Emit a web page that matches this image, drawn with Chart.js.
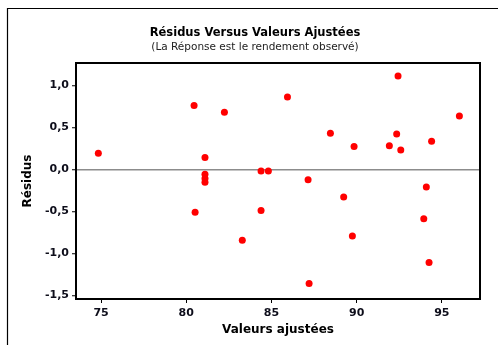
<!DOCTYPE html>
<html>
<head>
<meta charset="utf-8">
<script src="https://cdn.jsdelivr.net/npm/chart.js@4"></script>
<style>
  html, body { margin: 0; padding: 0; background: #fff; }
  #wrap { width: 498px; height: 345px; }
</style>
</head>
<body>
<div id="wrap"><canvas id="residus"></canvas></div>
<script>
const chartTitle = 'Résidus Versus Valeurs Ajustées'
const chartSubtitle = '(La Réponse est le rendement observé)'
const xTitle = 'Valeurs ajustées'
const yTitle = 'Résidus'

// valeurs ajustées (x) et résidus (y)
const fitted = [74.84, 80.46, 82.24, 81.1, 81.1, 81.1, 81.1, 80.52, 83.29, 84.39, 84.82, 84.39,
    92.43, 85.94, 96.03, 88.46, 92.35, 94.4, 89.85, 91.92, 92.59, 87.15, 94.09, 89.24,
    93.94, 89.75, 94.25, 87.21]
const residuals = [0.19, 0.76, 0.68, 0.14, -0.06, -0.11, -0.155, -0.51, -0.845, -0.02, -0.02, -0.49,
    1.11, 0.86, 0.635, 0.43, 0.42, 0.335, 0.27, 0.28, 0.23, -0.125, -0.21, -0.33,
    -0.59, -0.795, -1.11, -1.36]

const xTicks = [75, 80, 85, 90, 95]
const yTicks = [-1.5, -1.0, -0.5, 0.0, 0.5, 1.0]

const tickFont = { family: 'DejaVu Sans', size: 11, weight: 'bold' }
const inkColor = '#0d0d1a'

const framePlugin = {
    id: 'frame',
    beforeDraw(chart) {
        const ctx = chart.ctx
        ctx.save()
        ctx.strokeStyle = '#000'
        ctx.lineWidth = 1.2
        ctx.beginPath()
        ctx.moveTo(7.5, 345)
        ctx.lineTo(7.5, 8.5)
        ctx.lineTo(498, 8.5)
        ctx.stroke()
        ctx.fillStyle = '#000'
        ctx.textAlign = 'center'
        ctx.textBaseline = 'middle'
        ctx.font = 'bold 11.5px "DejaVu Sans"'
        ctx.fillText(chartTitle, 255, 33)
        ctx.fillStyle = '#222'
        ctx.font = '10.5px "DejaVu Sans"'
        ctx.fillText(chartSubtitle, 255, 47)
        ctx.restore()
    },
    afterDraw(chart) {
        const a = chart.chartArea
        const ctx = chart.ctx
        ctx.save()
        ctx.strokeStyle = '#000'
        ctx.lineWidth = 2
        ctx.strokeRect(a.left, a.top, a.right - a.left, a.bottom - a.top)
        ctx.restore()
    }
}

new Chart('residus', {
    type: 'scatter',
    data: {
        datasets: [{
            data: fitted.map((x, i) => ({ x: x, y: residuals[i] })),
            backgroundColor: '#ff0000',
            borderWidth: 0,
            pointRadius: 3.5,
            pointHoverRadius: 3.5
        }]
    },
    options: {
        responsive: true,
        maintainAspectRatio: false,
        animation: false,
        layout: { padding: { left: 0, right: 18, top: 63, bottom: 0 } },
        plugins: {
            legend: { display: false },
            tooltip: { enabled: false }
        },
        scales: {
            x: {
                type: 'linear',
                min: 73.53,
                max: 97.24,
                afterFit: s => { s.height = 46 },
                afterBuildTicks: s => { s.ticks = xTicks.map(v => ({ value: v })) },
                ticks: { font: tickFont, color: inkColor, padding: 4, callback: v => String(v) },
                grid: { drawOnChartArea: false, tickLength: 4, tickColor: '#000', tickWidth: 1 },
                border: { display: false },
                title: {
                    display: true,
                    text: xTitle,
                    color: '#000',
                    font: { family: 'DejaVu Sans', size: 12, weight: 'bold' },
                    padding: { top: 0, bottom: 8 }
                }
            },
            y: {
                min: -1.544,
                max: 1.265,
                afterFit: s => { s.width = 76 },
                afterBuildTicks: s => { s.ticks = yTicks.map(v => ({ value: v })) },
                ticks: { font: tickFont, color: inkColor, padding: 3, callback: v => v.toFixed(1).replace('.', ',') },
                grid: {
                    color: c => (c.tick && c.tick.value === 0) ? '#8c8c8c' : 'rgba(0,0,0,0)',
                    lineWidth: 1.5,
                    tickLength: 4,
                    tickColor: '#000',
                    tickWidth: 1
                },
                border: { display: false },
                title: {
                    display: true,
                    text: yTitle,
                    color: '#000',
                    font: { family: 'DejaVu Sans', size: 12, weight: 'bold' },
                    padding: { top: 21, bottom: 0 }
                }
            }
        }
    },
    plugins: [framePlugin]
})
</script>
</body>
</html>
